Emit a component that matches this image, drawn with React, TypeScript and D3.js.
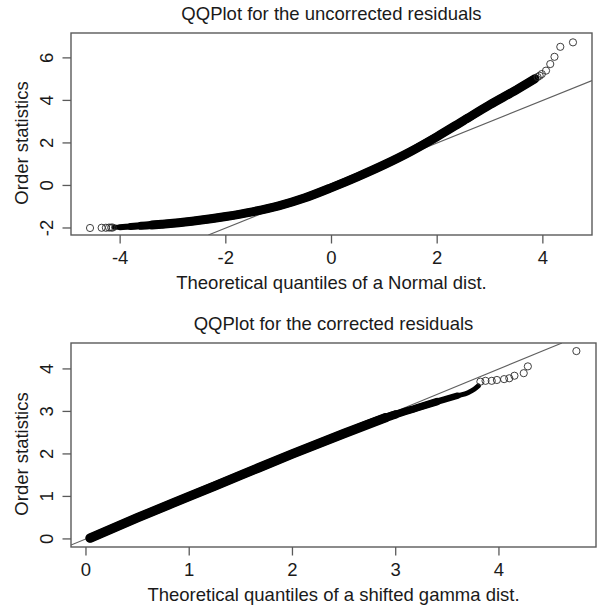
import React from 'react';
import * as d3 from 'd3';

const W = 597;
const H = 615;

// Upper panel: normal theoretical quantiles vs. order statistics of the raw residuals (dense body)
const normQ = [-4.12, -4.0, -3.8, -3.6, -3.4, -3.2, -3.0, -2.5, -2.0, -1.5, -1.0, -0.5, 0, 0.5, 1.0, 1.5, 2.0, 2.5, 3.0, 3.5, 3.85];
const normOrder = [-1.97, -1.96, -1.93, -1.9, -1.86, -1.82, -1.78, -1.64, -1.46, -1.24, -0.96, -0.58, -0.1, 0.42, 0.98, 1.6, 2.3, 3.05, 3.8, 4.5, 5.02];
// extreme observations, drawn one circle each
const normTailQ = [-4.57, -4.35, -4.27, -4.21, -4.17, -4.14, 3.9, 3.94, 3.98, 4.06, 4.14, 4.22, 4.33, 4.57];
const normTailOrder = [-2.0, -1.99, -1.99, -1.98, -1.98, -1.98, 5.1, 5.16, 5.24, 5.4, 5.71, 6.05, 6.52, 6.73];
const normXTicks = [-4, -2, 0, 2, 4];
const normYTicks = [-2, 0, 2, 4, 6];

// Lower panel: shifted gamma theoretical quantiles vs. order statistics of corrected residuals
const gammaQ = [0.04, 0.5, 1.0, 1.5, 2.0, 2.5, 2.9, 3.0, 3.2, 3.4, 3.5, 3.6, 3.7, 3.76, 3.8];
const gammaOrder = [0.02, 0.5, 1.0, 1.5, 2.0, 2.48, 2.85, 2.93, 3.08, 3.23, 3.3, 3.37, 3.44, 3.52, 3.6];
const gammaTailQ = [3.82, 3.87, 3.93, 3.98, 4.05, 4.1, 4.15, 4.24, 4.28, 4.75];
const gammaTailOrder = [3.7, 3.72, 3.72, 3.74, 3.76, 3.78, 3.84, 3.9, 4.06, 4.42];
const gammaXTicks = [0, 1, 2, 3, 4];
const gammaYTicks = [0, 1, 2, 3, 4];

const FONT = '"Liberation Sans", Arial, Helvetica, sans-serif';
const FS = 18.5;
const TEXT = '#1a1a1a';
const FRAME = '#5a5a5a';

// stroke layers: [first index, last index, width] — overlapping layers give the
// point cloud a thinner edge where the observations thin out
type Layer = [number, number, number];

type PanelProps = {
  box: { x0: number; x1: number; y0: number; y1: number };
  xDomain: [number, number];
  yDomain: [number, number];
  title: string;
  xLabel: string;
  xTicks: number[];
  yTicks: number[];
  qs: number[];
  os: number[];
  layers: Layer[];
  tailX: number[];
  tailY: number[];
};

function Panel({ box, xDomain, yDomain, title, xLabel, xTicks, yTicks, qs, os, layers, tailX, tailY }: PanelProps) {
  const x = d3.scaleLinear().domain(xDomain).range([box.x0, box.x1]);
  const y = d3.scaleLinear().domain(yDomain).range([box.y1, box.y0]);
  const cx = (box.x0 + box.x1) / 2;
  const cy = (box.y0 + box.y1) / 2;
  const clipId = `clip-${Math.round(box.y0)}`;
  const pts = qs.map((v, k) => [v, os[k]] as [number, number]);
  const line = d3
    .line<[number, number]>()
    .x((d) => x(d[0]))
    .y((d) => y(d[1]))
    .curve(d3.curveMonotoneX);

  // y = x reference line across the whole plotting region
  const lo = Math.max(xDomain[0], yDomain[0]);
  const hi = Math.min(xDomain[1], yDomain[1]);

  return (
    <g>
      <defs>
        <clipPath id={clipId}>
          <rect x={box.x0} y={box.y0} width={box.x1 - box.x0} height={box.y1 - box.y0} />
        </clipPath>
      </defs>
      <text x={cx} y={box.y0 - 13.5} textAnchor="middle" fontFamily={FONT} fontSize={FS} fill={TEXT}>
        {title}
      </text>
      <g clipPath={`url(#${clipId})`}>
        <line x1={x(lo)} y1={y(lo)} x2={x(hi)} y2={y(hi)} stroke="#5f5f5f" strokeWidth={1.1} />
        {layers.map(([a, b, w], i) => (
          <path
            key={i}
            d={line(pts.slice(a, b + 1)) || ''}
            fill="none"
            stroke="#000"
            strokeWidth={w}
            strokeLinecap="round"
            strokeLinejoin="round"
          />
        ))}
        {tailX.map((v, i) => (
          <circle key={i} cx={x(v)} cy={y(tailY[i])} r={3.6} fill="none" stroke="#2a2a2a" strokeWidth={0.9} />
        ))}
      </g>
      <rect
        x={box.x0}
        y={box.y0}
        width={box.x1 - box.x0}
        height={box.y1 - box.y0}
        fill="none"
        stroke={FRAME}
        strokeWidth={1.4}
      />
      {xTicks.map((t) => (
        <g key={`x${t}`}>
          <line x1={x(t)} x2={x(t)} y1={box.y1} y2={box.y1 + 8.5} stroke={FRAME} strokeWidth={1.3} />
          <text x={x(t)} y={box.y1 + 29} textAnchor="middle" fontFamily={FONT} fontSize={FS} fill={TEXT}>
            {t}
          </text>
        </g>
      ))}
      {yTicks.map((t) => (
        <g key={`y${t}`}>
          <line x1={box.x0 - 8.5} x2={box.x0} y1={y(t)} y2={y(t)} stroke={FRAME} strokeWidth={1.3} />
          <text
            transform={`translate(${box.x0 - 18},${y(t)}) rotate(-90)`}
            textAnchor="middle"
            fontFamily={FONT}
            fontSize={FS}
            fill={TEXT}
          >
            {t}
          </text>
        </g>
      ))}
      <text x={cx} y={box.y1 + 53.5} textAnchor="middle" fontFamily={FONT} fontSize={FS} fill={TEXT}>
        {xLabel}
      </text>
      <text
        transform={`translate(28,${cy + 9}) rotate(-90)`}
        textAnchor="middle"
        fontFamily={FONT}
        fontSize={FS}
        fill={TEXT}
      >
        Order statistics
      </text>
    </g>
  );
}

export default function App() {
  const nLast = normQ.length - 1;
  const gLast = gammaQ.length - 1;
  return (
    <svg
      width={W}
      height={H}
      viewBox={`0 0 ${W} ${H}`}
      style={{ position: 'absolute', left: 0, top: 0, background: '#fff' }}
    >
      <rect width={W} height={H} fill="#fff" />
      <Panel
        box={{ x0: 71, x1: 592, y0: 33, y1: 235 }}
        xDomain={[-4.93, 4.93]}
        yDomain={[-2.33, 7.17]}
        title="QQPlot for the uncorrected residuals"
        xLabel="Theoretical quantiles of a Normal dist."
        xTicks={normXTicks}
        yTicks={normYTicks}
        qs={normQ}
        os={normOrder}
        layers={[
          [0, nLast, 5],
          [1, nLast, 6],
          [2, nLast, 7],
          [3, nLast, 8],
          [4, nLast, 9],
        ]}
        tailX={normTailQ}
        tailY={normTailOrder}
      />
      <Panel
        box={{ x0: 71, x1: 596, y0: 343, y1: 547 }}
        xDomain={[-0.145, 4.94]}
        yDomain={[-0.19, 4.61]}
        title="QQPlot for the corrected residuals"
        xLabel="Theoretical quantiles of a shifted gamma dist."
        xTicks={gammaXTicks}
        yTicks={gammaYTicks}
        qs={gammaQ}
        os={gammaOrder}
        layers={[
          [0, gLast, 5],
          [0, 11, 6.5],
          [0, 9, 7.5],
          [0, 7, 8.5],
          [0, 6, 9.5],
        ]}
        tailX={gammaTailQ}
        tailY={gammaTailOrder}
      />
    </svg>
  );
}
